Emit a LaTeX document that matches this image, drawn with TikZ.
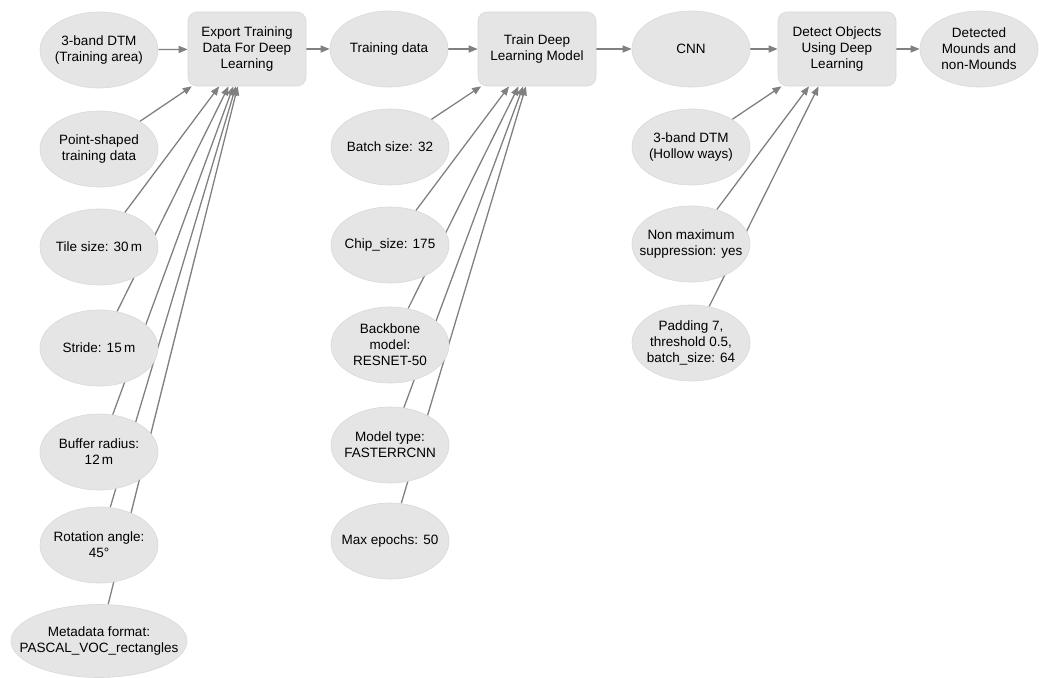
\documentclass[tikz,border=0pt]{standalone}
\usepackage{fontspec}
\setmainfont{Liberation Sans}
\usetikzlibrary{arrows.meta,shapes.geometric,backgrounds}
\begin{document}
\begin{tikzpicture}[x=1pt,y=-1pt,
  every node/.style={font=\fontsize{13.5}{16}\selectfont, align=center, inner sep=0pt},
  lbl/.style={align=center, inner sep=0pt},
  data/.style={ellipse, draw=black!15, fill=black!10, line width=0.6pt, minimum width=118pt, minimum height=76pt, label={[lbl]center:#1}},
  tool/.style={rectangle, rounded corners=9pt, draw=black!15, fill=black!10, line width=0.6pt, minimum width=118pt, minimum height=74pt},
  link/.style={draw=black!50, line width=1.3pt, -{Triangle[length=9pt,width=7pt]}}]
\useasboundingbox (0,0) rectangle (1043,677);
% top row
\node[data={3-band DTM\\(Training area)}] (dtm) at (99,50) {};
\node[tool] (exp) at (247,49) {Export Training\\Data For Deep\\Learning};
\node[data={Training data}] (td) at (389,49) {};
\node[tool] (train) at (537,49) {Train Deep\\Learning Model};
\node[data={CNN}] (cnn) at (691,49) {};
\node[tool] (det) at (837,49) {Detect Objects\\Using Deep\\Learning};
\node[data={Detected\\Mounds and\\non-Mounds}] (out) at (979,49) {};
% left column
\node[data={Point-shaped\\training data}] (pts) at (99,149) {};
\node[data={Tile size: 30\,m}] (tile) at (99,247) {};
\node[data={Stride: 15\,m}] (stride) at (99,348) {};
\node[data={Buffer radius:\\12\,m}] (buf) at (99,452) {};
\node[data={Rotation angle:\\45°}] (rot) at (99,545) {};
\node[data={Metadata format:\\PASCAL\_VOC\_rectangles}, minimum width=176pt, minimum height=73pt] (meta) at (99,641) {};
% middle column
\node[data={Batch size: 32}] (batch) at (390,147) {};
\node[data={Chip\_size: 175}] (chip) at (390,245) {};
\node[data={Backbone\\model:\\RESNET-50}] (back) at (390,345) {};
\node[data={Model type:\\FASTERRCNN}] (mtype) at (390,445) {};
\node[data={Max epochs: 50}] (epochs) at (390,541) {};
% right column
\node[data={3-band DTM\\(Hollow ways)}] (hollow) at (691,147) {};
\node[data={Non maximum\\suppression: yes}] (nms) at (691,244) {};
\node[data={Padding 7,\\threshold 0.5,\\batch\_size: 64}] (pad) at (691,343) {};
\begin{scope}[on background layer]
\draw[link] (dtm) -- (exp);
\draw[link] (exp) -- (td);
\draw[link] (td) -- (train);
\draw[link] (train) -- (cnn);
\draw[link] (cnn) -- (det);
\draw[link] (det) -- (out);
\foreach \n in {pts,tile,stride,buf,rot,meta} \draw[link] (\n) -- (exp);
\foreach \n in {batch,chip,back,mtype,epochs} \draw[link] (\n) -- (train);
\foreach \n in {hollow,nms,pad} \draw[link] (\n) -- (det);
\end{scope}
\end{tikzpicture}
\end{document}
